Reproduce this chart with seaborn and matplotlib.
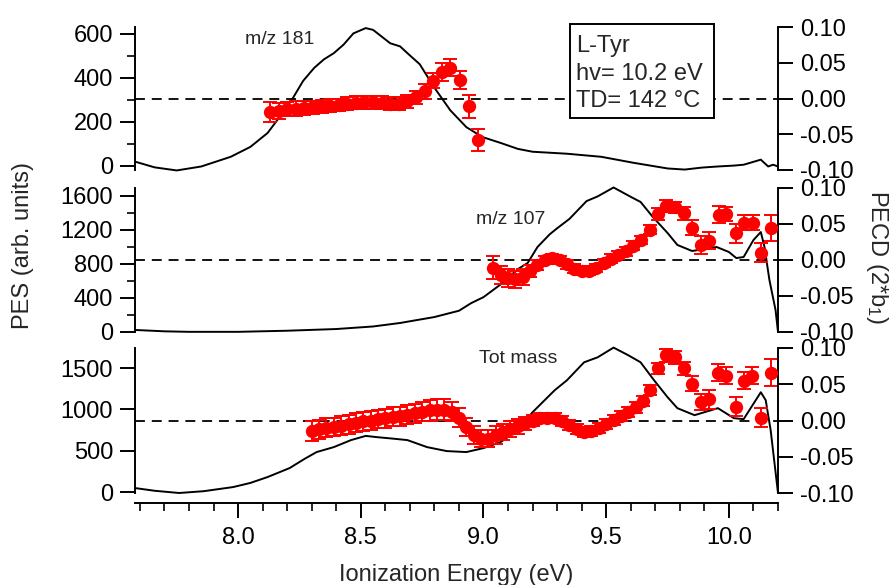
import matplotlib
matplotlib.use('Agg')
import matplotlib.pyplot as plt
import matplotlib.patches as mpatches
from matplotlib.ticker import MultipleLocator, FormatStrFormatter, FixedLocator
import seaborn as sns

sns.set_theme(style='ticks')
plt.rcParams['font.family'] = ['Liberation Sans', 'DejaVu Sans']
plt.rcParams['axes.unicode_minus'] = False
plt.rcParams['mathtext.fontset'] = 'custom'
plt.rcParams['mathtext.rm'] = 'Liberation Sans'
plt.rcParams['mathtext.it'] = 'Liberation Sans'

# ---------------- data ----------------
# PES, m/z 181
pes181_E = [7.58, 7.66, 7.75, 7.85, 7.97, 8.05, 8.12, 8.18, 8.225, 8.265, 8.31, 8.35, 8.39,
            8.43, 8.47, 8.52, 8.55, 8.62, 8.66, 8.69, 8.74, 8.80, 8.865, 8.93, 8.995, 9.07,
            9.14, 9.20, 9.34, 9.48, 9.61, 9.75, 9.82, 9.89, 9.955, 10.02, 10.06, 10.13,
            10.16, 10.18, 10.2]
pes181 = [18, -8, -22, -4, 40, 85, 148, 237, 310, 385, 444, 483, 511, 550, 601, 625, 617,
          556, 542, 511, 461, 354, 251, 175, 130, 103, 76, 63, 54, 40, 13, -13, -18, -9,
          -4, 0, 4, 27, -4, 4, -4]
# PECD, m/z 181
pecd181_E = [8.13, 8.165, 8.20, 8.235, 8.27, 8.305, 8.34, 8.375, 8.41, 8.445, 8.48, 8.515,
             8.55, 8.585, 8.62, 8.655, 8.69, 8.725, 8.76, 8.795, 8.83, 8.865, 8.905, 8.94,
             8.976]
pecd181 = [-0.019, -0.017, -0.015, -0.014, -0.013, -0.012, -0.011, -0.010, -0.009, -0.007,
           -0.006, -0.005, -0.005, -0.006, -0.007, -0.007, -0.004, 0.002, 0.010, 0.025,
           0.037, 0.043, 0.026, -0.011, -0.058]
pecd181_err = [0.014, 0.011, 0.010, 0.010, 0.010, 0.009, 0.009, 0.009, 0.009, 0.009, 0.009,
               0.009, 0.009, 0.009, 0.009, 0.009, 0.009, 0.009, 0.010, 0.011, 0.012, 0.012,
               0.013, 0.016, 0.016]

# PES, m/z 107
pes107_E = [7.58, 7.7, 7.8, 8.0, 8.2, 8.4, 8.55, 8.66, 8.8, 8.9, 8.95, 9.0, 9.07, 9.14,
            9.18, 9.22, 9.27, 9.30, 9.35, 9.42, 9.465, 9.53, 9.60, 9.64, 9.69, 9.75, 9.79,
            9.85, 9.95, 10.0, 10.03, 10.06, 10.10, 10.13, 10.145, 10.165, 10.19, 10.2]
pes107 = [24, 8, 2, 2, 15, 35, 65, 106, 176, 250, 340, 410, 560, 740, 812, 1000, 1150,
          1220, 1330, 1540, 1595, 1700, 1590, 1530, 1353, 1165, 1024, 953, 1000, 941, 870,
          882, 1082, 1176, 1000, 612, 259, 0]
# PECD, m/z 107
pecd107_E = [9.04, 9.07, 9.10, 9.13, 9.16, 9.19, 9.22, 9.25, 9.28, 9.31, 9.34, 9.37, 9.40,
             9.43, 9.46, 9.49, 9.52, 9.55, 9.58, 9.61, 9.64, 9.68, 9.71, 9.745, 9.78, 9.815,
             9.85, 9.885, 9.92, 9.96, 9.99, 10.03, 10.06, 10.10, 10.13, 10.17]
pecd107 = [-0.011, -0.021, -0.025, -0.027, -0.024, -0.015, -0.007, 0.000, 0.003, 0.000,
           -0.006, -0.012, -0.015, -0.015, -0.011, -0.004, 0.002, 0.007, 0.012, 0.020,
           0.028, 0.042, 0.064, 0.075, 0.073, 0.065, 0.045, 0.021, 0.027, 0.063, 0.064,
           0.037, 0.052, 0.052, 0.010, 0.045]
pecd107_err = [0.016, 0.013, 0.012, 0.012, 0.011, 0.008, 0.007, 0.006, 0.006, 0.006, 0.006,
               0.006, 0.006, 0.006, 0.006, 0.006, 0.006, 0.006, 0.006, 0.006, 0.006, 0.006,
               0.008, 0.008, 0.008, 0.009, 0.010, 0.012, 0.012, 0.012, 0.010, 0.013, 0.011,
               0.011, 0.013, 0.018]

# PES, total mass
pestot_E = [7.58, 7.66, 7.76, 7.86, 7.98, 8.05, 8.12, 8.21, 8.27, 8.32, 8.39, 8.46, 8.52,
            8.565, 8.62, 8.69, 8.77, 8.85, 8.93, 9.0, 9.07, 9.14, 9.2, 9.29, 9.34, 9.41,
            9.465, 9.53, 9.59, 9.64, 9.695, 9.75, 9.79, 9.86, 9.955, 10.02, 10.06, 10.13,
            10.15, 10.17, 10.2]
pestot = [48, 15, -12, 10, 60, 110, 181, 290, 400, 484, 544, 629, 680, 665, 650, 629, 544,
          496, 484, 532, 605, 750, 967, 1233, 1354, 1572, 1632, 1750, 1657, 1572, 1354,
          1149, 1016, 931, 1016, 895, 883, 1209, 1112, 750, -12]
# PECD, total mass
pecdtot_E = [8.30, 8.33, 8.36, 8.39, 8.42, 8.45, 8.48, 8.51, 8.54, 8.57, 8.60, 8.63, 8.66,
             8.69, 8.72, 8.75, 8.78, 8.81, 8.84, 8.87, 8.90, 8.93, 8.96, 8.99, 9.02, 9.05,
             9.08, 9.11, 9.14, 9.17, 9.20, 9.23, 9.26, 9.29, 9.32, 9.35, 9.38, 9.41, 9.44,
             9.47, 9.50, 9.53, 9.56, 9.59, 9.62, 9.65, 9.68, 9.71, 9.745, 9.78, 9.815,
             9.85, 9.885, 9.92, 9.955, 9.99, 10.03, 10.06, 10.095, 10.13, 10.17]
pecdtot = [-0.014, -0.012, -0.010, -0.009, -0.007, -0.005, -0.003, -0.001, 0.000, 0.002,
           0.003, 0.005, 0.006, 0.008, 0.010, 0.012, 0.014, 0.015, 0.015, 0.012, 0.004,
           -0.009, -0.020, -0.025, -0.025, -0.020, -0.016, -0.012, -0.008, -0.004, 0.000,
           0.003, 0.004, 0.003, -0.001, -0.006, -0.012, -0.016, -0.015, -0.010, -0.005,
           0.001, 0.006, 0.012, 0.018, 0.027, 0.042, 0.072, 0.090, 0.087, 0.072, 0.051,
           0.025, 0.029, 0.066, 0.062, 0.019, 0.055, 0.062, 0.004, 0.066]
pecdtot_err = [0.014, 0.013, 0.013, 0.013, 0.013, 0.013, 0.013, 0.013, 0.013, 0.013, 0.013,
               0.013, 0.013, 0.013, 0.013, 0.013, 0.014, 0.014, 0.014, 0.013, 0.013, 0.013,
               0.013, 0.012, 0.012, 0.012, 0.011, 0.011, 0.010, 0.009, 0.008, 0.007, 0.007,
               0.007, 0.007, 0.007, 0.007, 0.007, 0.007, 0.007, 0.007, 0.007, 0.007, 0.007,
               0.007, 0.007, 0.007, 0.008, 0.009, 0.009, 0.009, 0.010, 0.011, 0.013, 0.012,
               0.012, 0.013, 0.012, 0.012, 0.013, 0.019]

panel_labels = ['m/z 181', 'm/z 107', 'Tot mass']
info_lines = ['L-Tyr', 'hv= 10.2 eV', 'TD= 142 \u00b0C']

# ---------------- figure ----------------
W_PX, H_PX = 891, 585
fig = plt.figure(figsize=(W_PX / 100, H_PX / 100), dpi=100)
fig.patch.set_facecolor('white')

def rect(top, bot, left=135, right=778):
    return [left / W_PX, 1 - bot / H_PX, (right - left) / W_PX, (bot - top) / H_PX]

panels = [
    dict(r=rect(27, 170), pE=pes181_E, p=pes181, cE=pecd181_E, c=pecd181, ce=pecd181_err,
         ylim=(-20, 630), maj=[0, 200, 400, 600], mnr=[100, 300, 500]),
    dict(r=rect(188, 332), pE=pes107_E, p=pes107, cE=pecd107_E, c=pecd107, ce=pecd107_err,
         ylim=(0, 1694), maj=[0, 400, 800, 1200, 1600], mnr=[200, 600, 1000, 1400]),
    dict(r=rect(348, 493), pE=pestot_E, p=pestot, cE=pecdtot_E, c=pecdtot, ce=pecdtot_err,
         ylim=(-12, 1745), maj=[0, 500, 1000, 1500], mnr=[]),
]

FS = 17
LW = 1.4
TL_MAJ, TL_MIN = 10.8, 5.8

for i, pnl in enumerate(panels):
    ax = fig.add_axes(pnl['r'])
    ax.set_facecolor('none')
    sns.lineplot(x=pnl['pE'], y=pnl['p'], ax=ax, color='black', linewidth=1.4,
                 estimator=None, sort=False, clip_on=False)
    ax.set_xlim(7.58, 10.2)
    ax.set_ylim(*pnl['ylim'])
    ax.yaxis.set_major_locator(FixedLocator(pnl['maj']))
    ax.yaxis.set_minor_locator(FixedLocator(pnl['mnr']))
    ax.yaxis.set_major_formatter(FormatStrFormatter('%d'))
    ax.tick_params(axis='y', which='major', direction='out', length=TL_MAJ, width=LW,
                   labelsize=FS, pad=5, colors='black')
    ax.tick_params(axis='y', which='minor', direction='out', length=TL_MIN, width=LW,
                   left=True)
    for s in ['top', 'right']:
        ax.spines[s].set_visible(False)
    ax.spines['left'].set_linewidth(LW)
    ax.spines['left'].set_color('black')
    if i < 2:
        ax.spines['bottom'].set_visible(False)
        ax.tick_params(axis='x', which='both', bottom=False, labelbottom=False)
    else:
        ax.spines['bottom'].set_position(('outward', 7.5))
        ax.spines['bottom'].set_linewidth(LW)
        ax.spines['bottom'].set_color('black')
        ax.xaxis.set_major_locator(MultipleLocator(0.5))
        ax.xaxis.set_minor_locator(MultipleLocator(0.1))
        ax.xaxis.set_major_formatter(FormatStrFormatter('%.1f'))
        ax.tick_params(axis='x', which='major', direction='out', length=TL_MAJ, width=LW,
                       labelsize=FS, pad=6.5, bottom=True, colors='black')
        ax.tick_params(axis='x', which='minor', direction='out', length=TL_MIN, width=LW,
                       bottom=True)
    ax.set_xlabel('')
    ax.set_ylabel('')

    ax2 = ax.twinx()
    ax2.set_ylim(-0.1, 0.1)
    ax2.axhline(0, color='black', linewidth=1.3, linestyle=(0, (5.5, 3.8)), zorder=1)
    ax2.errorbar(pnl['cE'], pnl['c'], yerr=pnl['ce'], fmt='none', ecolor='#ff0000',
                 elinewidth=1.4, capsize=5, capthick=1.4, zorder=2)
    sns.scatterplot(x=pnl['cE'], y=pnl['c'], ax=ax2, color='#ff0000', s=92,
                    linewidth=0, zorder=3)
    ax2.set_yticks([-0.10, -0.05, 0.00, 0.05, 0.10])
    ax2.yaxis.set_major_formatter(FormatStrFormatter('%.2f'))
    ax2.tick_params(axis='y', which='major', direction='out', length=TL_MAJ, width=LW,
                    labelsize=FS, pad=5, right=True, colors='black')
    for s in ['top', 'left', 'bottom']:
        ax2.spines[s].set_visible(False)
    ax2.spines['right'].set_linewidth(LW)
    ax2.spines['right'].set_color('black')
    ax2.set_xlabel('')
    ax2.set_ylabel('')
    ax2.set_xlim(7.58, 10.2)

# panel labels
label_pos = [(245, 44), (476, 224), (479, 363)]
for txt, (x, y) in zip(panel_labels, label_pos):
    fig.text(x / W_PX, 1 - y / H_PX, txt, fontsize=14, ha='left', va='baseline')

# info box
box = mpatches.Rectangle((570 / W_PX, 1 - 118 / H_PX), 144 / W_PX, 94 / H_PX,
                         transform=fig.transFigure, facecolor='white', edgecolor='black',
                         linewidth=1.4, zorder=5)
fig.add_artist(box)
for txt, y in zip(info_lines, [52, 80, 107]):
    fig.text(576 / W_PX, 1 - y / H_PX, txt, fontsize=FS, ha='left', va='baseline',
             zorder=6)

# axis labels
fig.text(23 / W_PX, 1 - 245 / H_PX, 'PES (arb. units)', rotation=90, fontsize=FS,
         ha='center', va='center')
fig.text(877 / W_PX, 1 - 257 / H_PX, 'PECD (2*b$_1$)', rotation=270, fontsize=FS,
         ha='center', va='center')
fig.text(456 / W_PX, 1 - 581 / H_PX, 'Ionization Energy (eV)', fontsize=FS,
         ha='center', va='baseline')

fig.savefig('out.png', dpi=100, facecolor='white')
